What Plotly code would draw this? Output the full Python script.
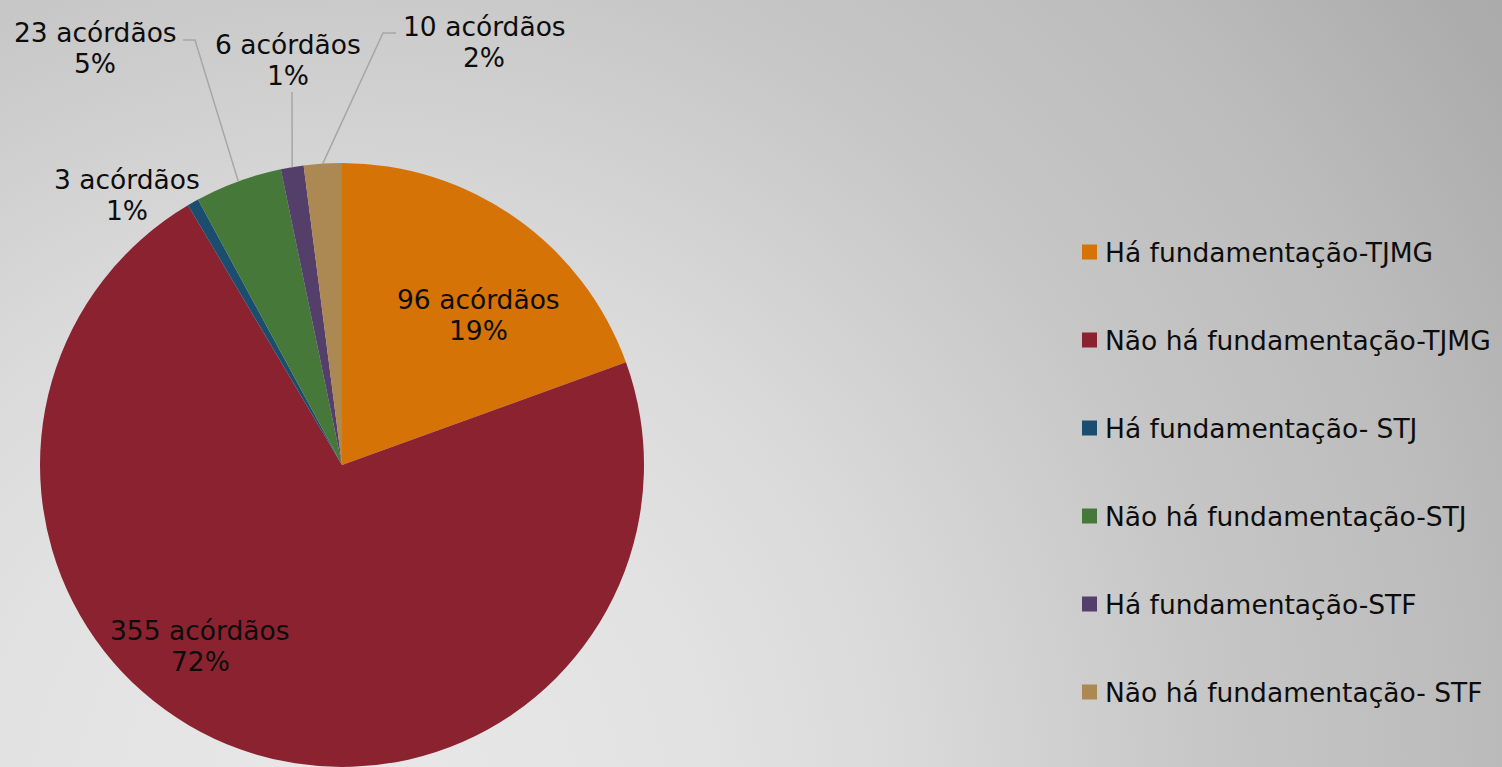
import base64
import math
import plotly.graph_objects as go

# ---- data ----
categories = [
    "Há fundamentação-TJMG",
    "Não há fundamentação-TJMG",
    "Há fundamentação- STJ",
    "Não há fundamentação-STJ",
    "Há fundamentação-STF",
    "Não há fundamentação- STF",
]
counts = [96, 355, 3, 23, 6, 10]
unit = "acórdãos"

# ---- styling / layout ----
colors = ["#D67306", "#8B2230", "#1B4E6E", "#46783A", "#543F6A", "#AC8852"]
FONT = "DejaVu Sans, Verdana, sans-serif"
FONT_SIZE = 26.5
TEXT_COLOR = "#0D0D0D"
LEADER_COLOR = "#A6A6A6"
LINE_GAP = 31                      # distance between the two lines of a data label

W, H = 1502, 767
CX, CY, R = 342, 465, 302          # pie centre and radius in pixels

# label centres (px) and leader-line elbows (px) for each slice
label_centres = [(478, 315), (200, 646), (127, 195), (95, 48), (288, 60), (484, 42)]
leader_elbows = [None, None, None, [(183, 40), (195, 40)], [(292, 92)], [(396, 33), (383, 33)]]

legend_x = 1082
legend_y0, legend_step = 252, 88
legend_box = 15


def px(x, y):
    """pixel position -> paper coordinates"""
    return x / W, 1 - y / H


# ---- background: soft radial grey gradient ----
stops = [(0, "#e8e8e8"), (350, "#e2e2e2"), (550, "#dadada"), (870, "#c6c6c6"),
         (1120, "#bcbcbc"), (1360, "#acacac"), (1600, "#a4a4a4")]
stop_xml = "".join(
    f'<stop offset="{d / 1600:.4f}" stop-color="{c}"/>' for d, c in stops
)
svg = (
    f'<svg xmlns="http://www.w3.org/2000/svg" width="{W}" height="{H}" '
    f'viewBox="0 0 {W} {H}" preserveAspectRatio="none"><defs>'
    f'<radialGradient id="g" gradientUnits="userSpaceOnUse" cx="350" cy="800" r="1600">'
    f'{stop_xml}</radialGradient></defs>'
    f'<rect width="{W}" height="{H}" fill="url(#g)"/></svg>'
)
bg_source = "data:image/svg+xml;base64," + base64.b64encode(svg.encode()).decode()

# ---- pie ----
dom_x = [(CX - R) / W, (CX + R) / W]
dom_y = [1 - (CY + R) / H, 1 - (CY - R) / H]

fig = go.Figure(
    go.Pie(
        labels=categories,
        values=counts,
        sort=False,
        direction="clockwise",
        rotation=0,
        textinfo="none",
        marker=dict(colors=colors, line=dict(width=0)),
        domain=dict(x=dom_x, y=[max(0, dom_y[0]), min(1, dom_y[1])]),
        showlegend=False,
    )
)

total = sum(counts)
annotations = []
shapes = []
text_font = dict(family=FONT, size=FONT_SIZE, color=TEXT_COLOR)

# data labels and leader lines
cum = 0
for i, v in enumerate(counts):
    mid = (cum + v / 2) / total
    cum += v
    theta = 2 * math.pi * mid
    edge = (CX + R * math.sin(theta), CY - R * math.cos(theta))

    pct = round(100 * v / total)
    cx_lab, cy_lab = label_centres[i]
    for line_text, dy in ((f"{v} {unit}", -LINE_GAP / 2), (f"{pct}%", LINE_GAP / 2)):
        lx, ly = px(cx_lab, cy_lab + dy)
        annotations.append(dict(
            text=line_text, x=lx, y=ly, xref="paper", yref="paper",
            xanchor="center", yanchor="middle", showarrow=False, font=text_font,
        ))

    if leader_elbows[i]:
        pts = leader_elbows[i] + [edge]
        path = ""
        for k, (x, y) in enumerate(pts):
            X, Y = px(x, y)
            path += ("M" if k == 0 else " L") + f" {X:.5f},{Y:.5f}"
        shapes.append(dict(type="path", path=path, xref="paper", yref="paper",
                           line=dict(color=LEADER_COLOR, width=1.5)))

# legend entries
for i, name in enumerate(categories):
    yc = legend_y0 + i * legend_step
    x0, y0 = px(legend_x, yc - legend_box / 2)
    x1, y1 = px(legend_x + legend_box, yc + legend_box / 2)
    shapes.append(dict(type="rect", xref="paper", yref="paper",
                       x0=x0, y0=y1, x1=x1, y1=y0,
                       fillcolor=colors[i], line=dict(width=0)))
    tx, ty = px(legend_x + legend_box + 6, yc)
    annotations.append(dict(
        text=name, x=tx, y=ty, xref="paper", yref="paper",
        xanchor="left", yanchor="middle", showarrow=False, font=text_font,
    ))

fig.update_layout(
    width=W, height=H,
    margin=dict(l=0, r=0, t=0, b=0),
    paper_bgcolor="#d4d4d4",
    plot_bgcolor="rgba(0,0,0,0)",
    images=[dict(source=bg_source, xref="paper", yref="paper", x=0, y=1,
                 sizex=1, sizey=1, xanchor="left", yanchor="top",
                 sizing="stretch", layer="below")],
    annotations=annotations,
    shapes=shapes,
)

fig.write_html("out.html")
